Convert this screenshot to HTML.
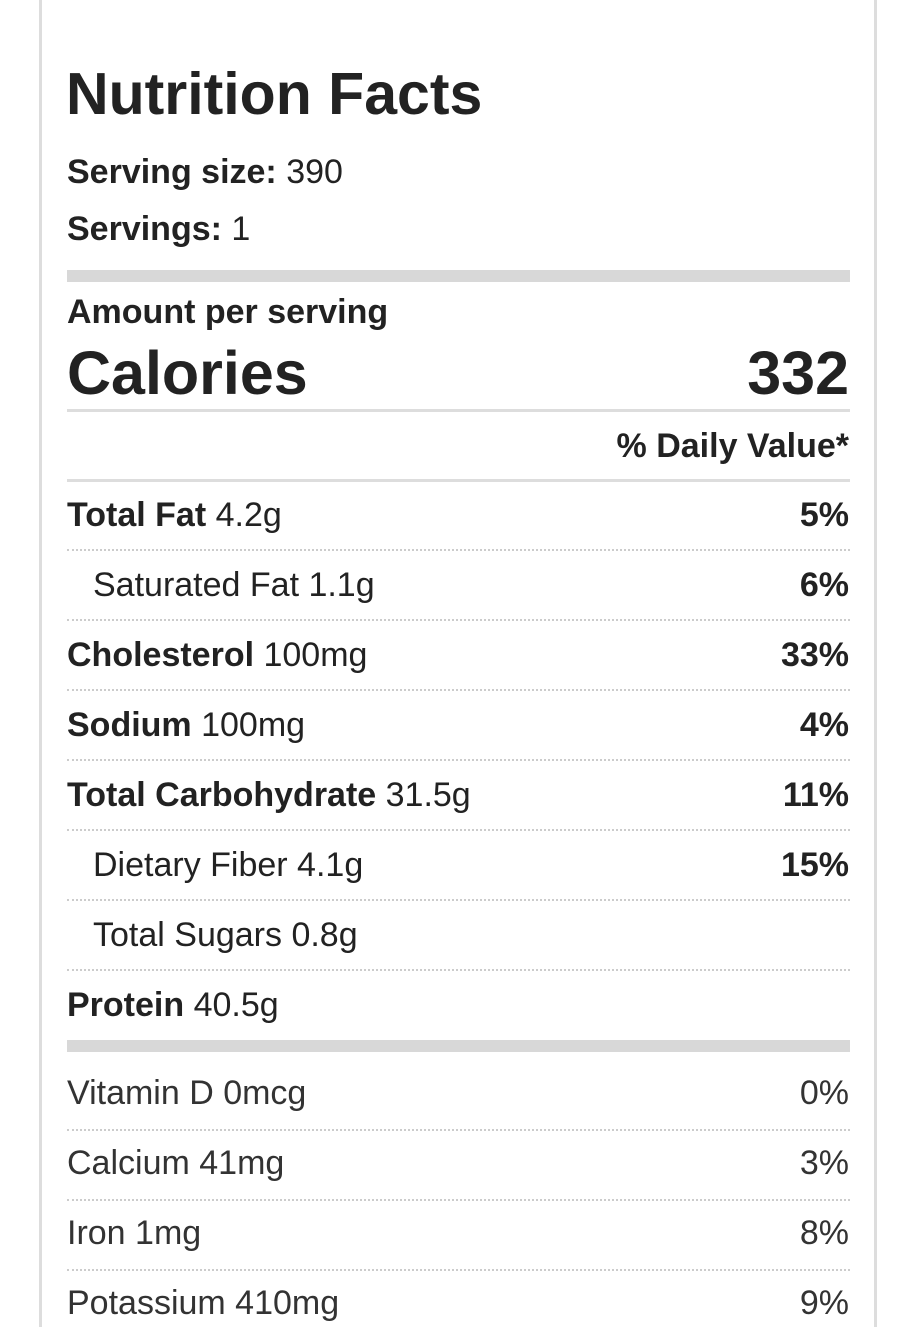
<!DOCTYPE html>
<html><head><style>
body{margin:0;width:904px;height:1327px;background:#fff;position:relative;overflow:hidden;font-family:"Liberation Sans",Arial,sans-serif;color:#222}
.vl{position:absolute;top:0;width:3px;height:1327px;background:#ddd}
.t{position:absolute;left:67px;right:55px;height:40px;line-height:40px;font-size:34px;white-space:nowrap}
.t .r{position:absolute;right:0;top:0}
b{font-weight:bold}
.in{padding-left:26px}
.thick{position:absolute;left:67px;width:783px;height:12px;background:#d8d8d8}
.thin{position:absolute;left:67px;width:783px;height:3px;background:#ddd}
.dot{position:absolute;left:67px;width:783px;height:0;border-top:2px dotted #ccc}
.lt{color:#333}
</style></head><body>
<div class="vl" style="left:39px"></div>
<div class="vl" style="left:874px"></div>
<div style="position:absolute;left:66px;top:59px;font-size:59px;font-weight:bold;line-height:70px">Nutrition Facts</div>
<div class="t" style="top:152px"><b>Serving size:</b> 390</div>
<div class="t" style="top:209px"><b>Servings:</b> 1</div>
<div class="thick" style="top:270px"></div>
<div class="t" style="top:292px"><b>Amount per serving</b></div>
<div class="t" style="top:338px;height:70px;line-height:70px;font-size:61px;font-weight:bold">Calories<span class="r">332</span></div>
<div class="thin" style="top:409px"></div>
<div class="t" style="top:426px"><span class="r"><b>% Daily Value*</b></span></div>
<div class="thin" style="top:479px"></div>
<div class="t" style="top:495px"><b>Total Fat</b> 4.2g<span class="r"><b>5%</b></span></div>
<div class="dot" style="top:549px"></div>
<div class="t in" style="top:565px">Saturated Fat 1.1g<span class="r"><b>6%</b></span></div>
<div class="dot" style="top:619px"></div>
<div class="t" style="top:635px"><b>Cholesterol</b> 100mg<span class="r"><b>33%</b></span></div>
<div class="dot" style="top:689px"></div>
<div class="t" style="top:705px"><b>Sodium</b> 100mg<span class="r"><b>4%</b></span></div>
<div class="dot" style="top:759px"></div>
<div class="t" style="top:775px"><b>Total Carbohydrate</b> 31.5g<span class="r"><b>11%</b></span></div>
<div class="dot" style="top:829px"></div>
<div class="t in" style="top:845px">Dietary Fiber 4.1g<span class="r"><b>15%</b></span></div>
<div class="dot" style="top:899px"></div>
<div class="t in" style="top:915px">Total Sugars 0.8g</div>
<div class="dot" style="top:969px"></div>
<div class="t" style="top:985px"><b>Protein</b> 40.5g</div>
<div class="thick" style="top:1040px"></div>
<div class="t lt" style="top:1073px">Vitamin D 0mcg<span class="r">0%</span></div>
<div class="dot" style="top:1129px"></div>
<div class="t lt" style="top:1143px">Calcium 41mg<span class="r">3%</span></div>
<div class="dot" style="top:1199px"></div>
<div class="t lt" style="top:1213px">Iron 1mg<span class="r">8%</span></div>
<div class="dot" style="top:1269px"></div>
<div class="t lt" style="top:1283px">Potassium 410mg<span class="r">9%</span></div>
</body></html>
